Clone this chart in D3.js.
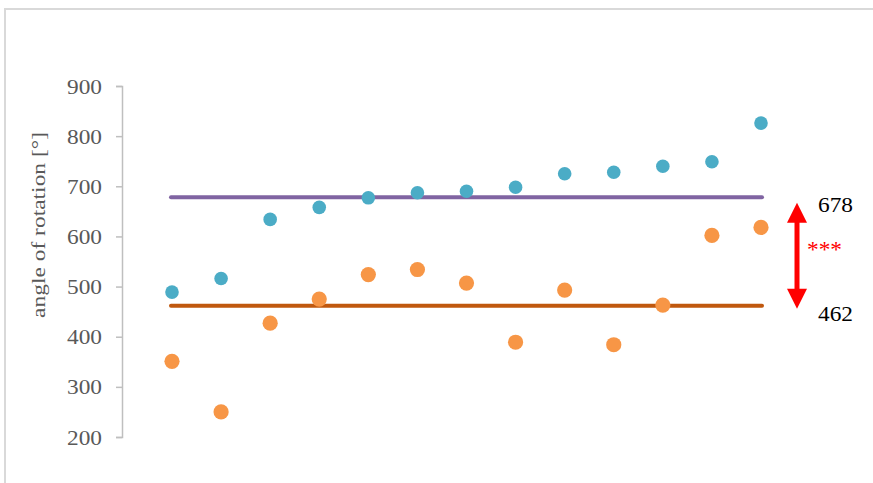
<!DOCTYPE html>
<html lang="en">
<head>
<meta charset="UTF-8">
<title>angle of rotation</title>
<script src="https://d3js.org/d3.v7.min.js"></script>
<style>
body { margin: 0; background: #fff; }
#chart { width: 873px; height: 483px; }
</style>
</head>
<body>
<div id="chart"></div>
<script>
// values
var samples = [1, 2, 3, 4, 5, 6, 7, 8, 9, 10, 11, 12, 13];
var seriesBlue = [489, 516, 634, 658, 677, 687, 690, 698, 725, 728, 740, 749, 826];
var seriesOrange = [351, 250, 427, 475, 524, 534, 507, 389, 493, 384, 463, 602, 618];
var meanValues = [678, 462];
var meanLabels = ["678", "462"];
var yTicks = [200, 300, 400, 500, 600, 700, 800, 900];

var width = 873, height = 483;
var serif = "'Liberation Serif', 'Times New Roman', serif";

var svg = d3.select("#chart").append("svg")
    .attr("width", width)
    .attr("height", height);

// frame of the chart area
svg.append("path")
    .attr("d", "M5,500 V9 H900")
    .attr("fill", "none")
    .attr("stroke", "#d9d9d9")
    .attr("stroke-width", 2);

var x = d3.scaleLinear().domain([1, 13]).range([172, 761]);
var y = d3.scaleLinear().domain([200, 900]).range([437, 86]);

// y axis
var yAxis = d3.axisLeft(y).tickValues(yTicks).tickSize(6).tickPadding(14);
var gy = svg.append("g")
    .attr("transform", "translate(122,0)")
    .call(yAxis);
gy.select(".domain").attr("stroke", "#bfbfbf").attr("stroke-width", 1.5);
gy.selectAll(".tick line").attr("stroke", "#bfbfbf").attr("stroke-width", 1.5);
gy.selectAll(".tick text")
    .attr("fill", "#595959")
    .attr("dy", "0.34em")
    .attr("textLength", 35)
    .attr("lengthAdjust", "spacingAndGlyphs")
    .style("font-family", serif)
    .style("font-size", "21px");

svg.append("text")
    .attr("transform", "translate(45,225) rotate(-90)")
    .attr("text-anchor", "middle")
    .attr("fill", "#595959")
    .attr("textLength", 186)
    .attr("lengthAdjust", "spacingAndGlyphs")
    .style("font-family", serif)
    .style("font-size", "19px")
    .text("angle of rotation [°]");

// mean lines
var lineColors = ["#8064a2", "#c0580e"];
svg.selectAll(".mean")
    .data(meanValues)
    .enter().append("line")
    .attr("class", "mean")
    .attr("x1", x(1) - 1)
    .attr("x2", x(13) + 1)
    .attr("y1", function(d) { return y(d); })
    .attr("y2", function(d) { return y(d); })
    .attr("stroke", function(d, i) { return lineColors[i]; })
    .attr("stroke-width", 4)
    .attr("stroke-linecap", "round");

// points
svg.selectAll(".blue")
    .data(seriesBlue)
    .enter().append("circle")
    .attr("class", "blue")
    .attr("cx", function(d, i) { return x(samples[i]); })
    .attr("cy", function(d) { return y(d); })
    .attr("r", 6.8)
    .attr("fill", "#4bacc6");

svg.selectAll(".orange")
    .data(seriesOrange)
    .enter().append("circle")
    .attr("class", "orange")
    .attr("cx", function(d, i) { return x(samples[i]); })
    .attr("cy", function(d) { return y(d); })
    .attr("r", 7.6)
    .attr("fill", "#f79646");

// double arrow between the means
var ax = 797;
var yTop = y(meanValues[0]) + 5.5, yBot = y(meanValues[1]) + 3;
var head = 20, halfW = 10;
svg.append("line")
    .attr("x1", ax).attr("x2", ax)
    .attr("y1", yTop + head - 1).attr("y2", yBot - head + 1)
    .attr("stroke", "#ff0000")
    .attr("stroke-width", 5);
svg.append("path")
    .attr("d", "M" + ax + "," + yTop + " L" + (ax + halfW) + "," + (yTop + head) + " L" + (ax - halfW) + "," + (yTop + head) + "Z")
    .attr("fill", "#ff0000");
svg.append("path")
    .attr("d", "M" + ax + "," + yBot + " L" + (ax + halfW) + "," + (yBot - head) + " L" + (ax - halfW) + "," + (yBot - head) + "Z")
    .attr("fill", "#ff0000");

svg.selectAll(".meanLabel")
    .data(meanLabels)
    .enter().append("text")
    .attr("class", "meanLabel")
    .attr("x", 818)
    .attr("y", function(d, i) { return i == 0 ? 212 : 321; })
    .attr("fill", "#000")
    .attr("textLength", 35)
    .attr("lengthAdjust", "spacingAndGlyphs")
    .style("font-family", serif)
    .style("font-size", "21px")
    .text(function(d) { return d; });

svg.append("text")
    .attr("x", 807)
    .attr("y", 257)
    .attr("fill", "#ff0000")
    .attr("textLength", 35)
    .attr("lengthAdjust", "spacingAndGlyphs")
    .style("font-family", serif)
    .style("font-size", "24px")
    .text("***");
</script>
</body>
</html>
